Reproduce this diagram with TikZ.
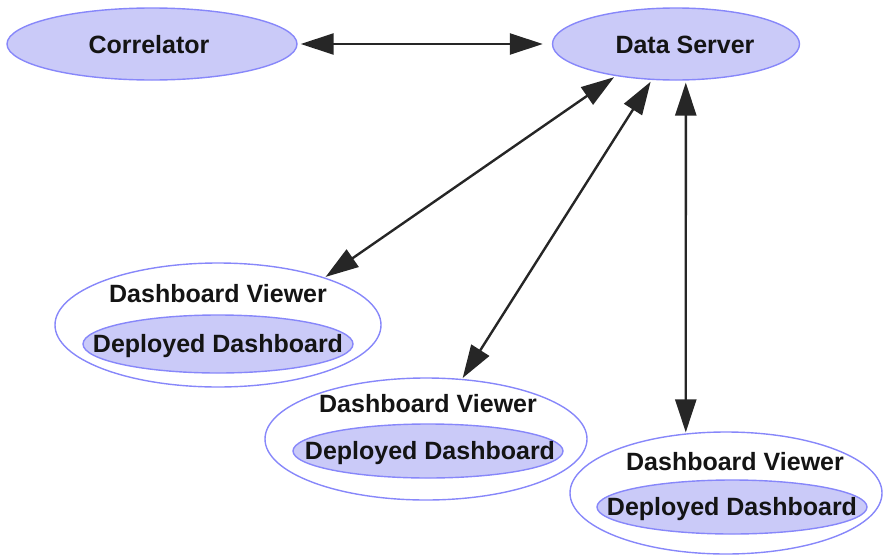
\documentclass[tikz,border=0pt]{standalone}
\usepackage{fontspec}
\setmainfont{Liberation Sans}
\usetikzlibrary{shapes.geometric,arrows.meta}
\definecolor{efill}{RGB}{202,202,248}
\definecolor{edraw}{RGB}{135,135,250}
\definecolor{txt}{RGB}{20,20,20}
\tikzset{
  solid ell/.style={ellipse, draw=edraw, fill=efill, line width=1.4pt, inner sep=0pt},
  open ell/.style={ellipse, draw=edraw, line width=1.4pt, inner sep=0pt},
  lbl/.style={font=\fontsize{25}{28}\selectfont\bfseries, text=txt, inner sep=0pt},
  conn/.style={line width=2.4pt, draw=black!85, {Triangle[length=33pt,width=21pt]}-{Triangle[length=33pt,width=21pt]}}
}
\begin{document}
\begin{tikzpicture}[x=1pt,y=-1pt]
\useasboundingbox (0,0) rectangle (883,557);
% top nodes
\node[solid ell, minimum width=290pt, minimum height=72pt] (cor) at (152,44) {};
\node[lbl] (cort) at (149,45) {Correlator};
\node[solid ell, minimum width=247pt, minimum height=72pt] (ds) at (676,44) {};
\node[lbl] (dst) at (685,45) {Data Server};
% viewer 1
\node[open ell, minimum width=326pt, minimum height=124pt] (v1) at (218,325) {};
\node[lbl] (t1) at (218,294) {Dashboard Viewer};
\node[solid ell, minimum width=270pt, minimum height=58pt] (d1) at (218,344) {};
\node[lbl] (d1t) at (218,346) {Deployed Dashboard};
% viewer 2
\node[open ell, minimum width=322pt, minimum height=122pt] (v2) at (426,439) {};
\node[lbl] (t2) at (428,404) {Dashboard Viewer};
\node[solid ell, minimum width=270pt, minimum height=54pt] (d2) at (428,451) {};
\node[lbl] (d2t) at (430,453) {Deployed Dashboard};
% viewer 3
\node[open ell, minimum width=312pt, minimum height=122pt] (v3) at (726,493) {};
\node[lbl] (t3) at (735,462) {Dashboard Viewer};
\node[solid ell, minimum width=270pt, minimum height=54pt] (d3) at (732,507) {};
\node[lbl] (d3t) at (732,509) {Deployed Dashboard};
% connectors
\draw[conn, shorten <=3pt, shorten >=9pt] (cor.east) -- (ds.west);
\draw[conn, shorten <=1pt, shorten >=2pt] (v1.24) -- (ds.208);
\draw[conn, shorten <=1pt, shorten >=2pt] (v2.59) -- (ds.236);
\draw[conn, shorten <=1pt, shorten >=2pt] (v3.124) -- (ds.285);
\end{tikzpicture}
\end{document}
